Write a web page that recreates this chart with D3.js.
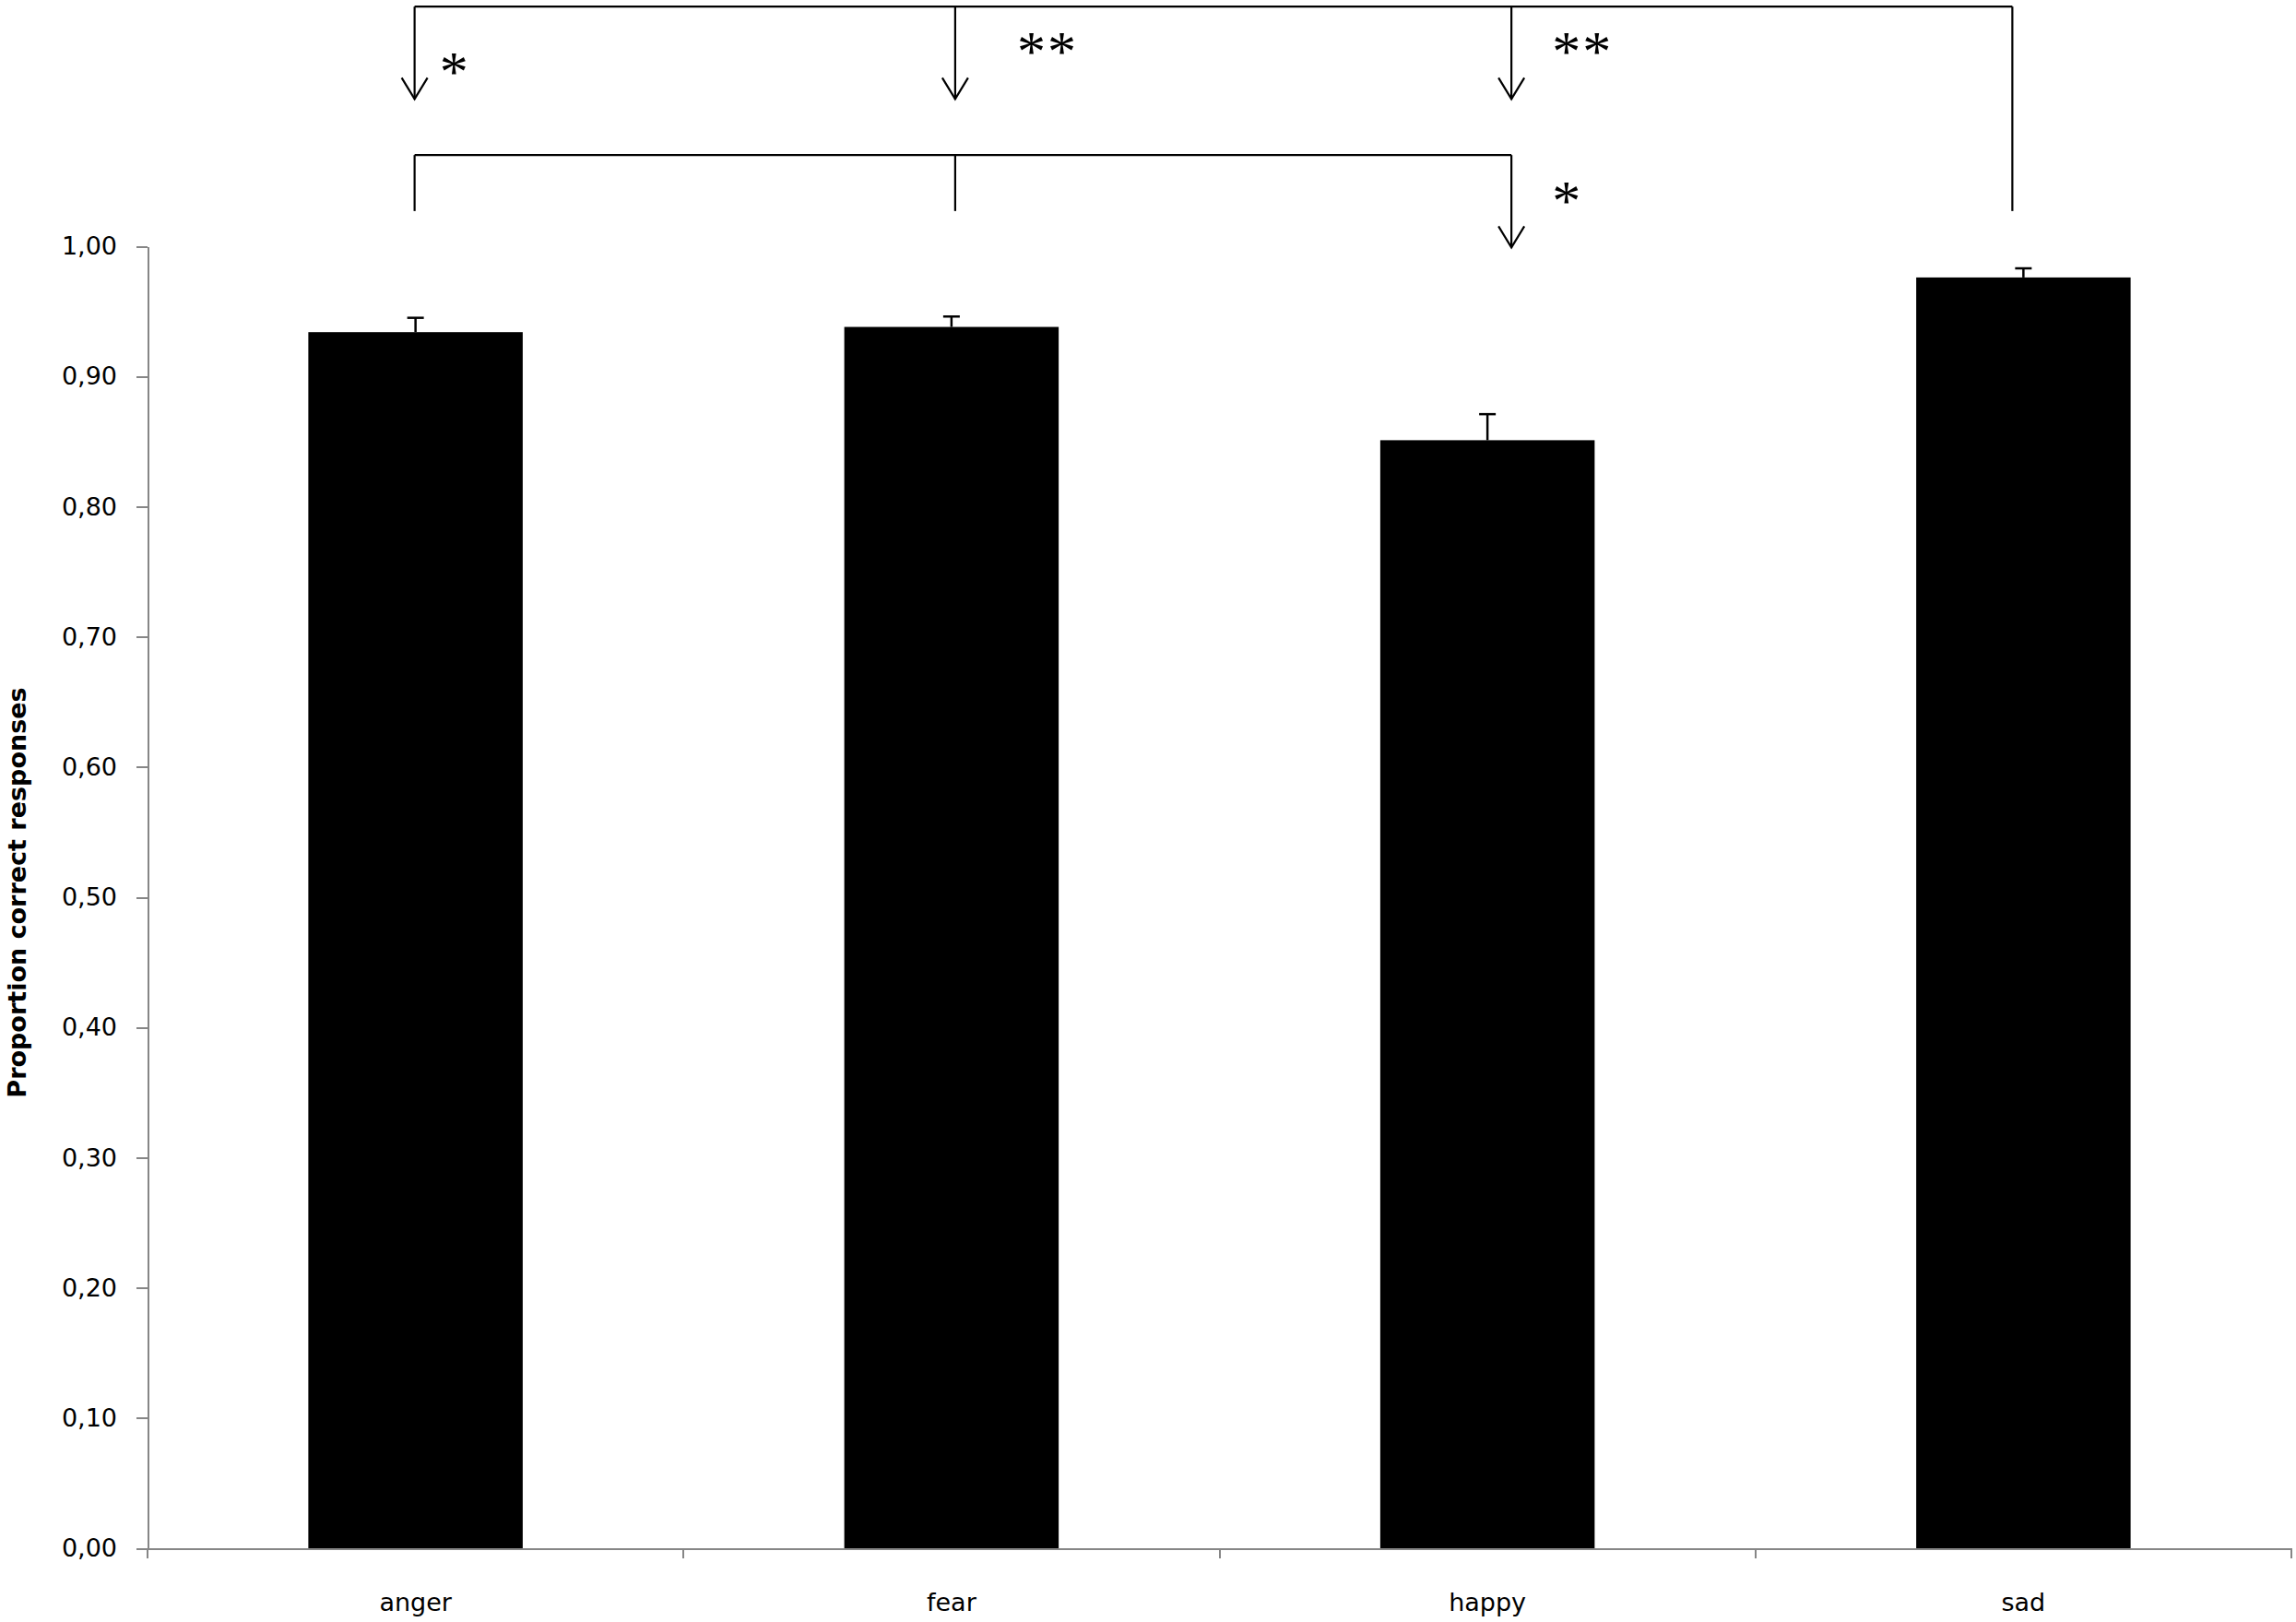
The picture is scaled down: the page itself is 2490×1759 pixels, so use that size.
<!DOCTYPE html>
<meta charset="utf-8">
<style>

body {
  margin: 0;
  background: #fff;
}

.axis path,
.axis line {
  fill: none;
  stroke: #868686;
  stroke-width: 2;
  shape-rendering: crispEdges;
}

.axis text {
  font: 27px "DejaVu Sans", sans-serif;
  fill: #000;
}

.bar {
  fill: #000;
}

.err {
  fill: none;
  stroke: #000;
  stroke-width: 2.5;
}

.bracket {
  fill: none;
  stroke: #000;
  stroke-width: 2.2;
}

.star {
  font: 62px "Liberation Serif", serif;
  fill: #000;
}

.title {
  font: bold 27px "DejaVu Sans", sans-serif;
  fill: #000;
}

</style>
<svg width="2490" height="1759"></svg>
<script src="https://d3js.org/d3.v7.min.js"></script>
<script>

var categories = ["anger", "fear", "happy", "sad"];
var means = [0.934, 0.938, 0.851, 0.976];
var errors = [0.011, 0.008, 0.020, 0.007];
var yTicks = [0, 0.1, 0.2, 0.3, 0.4, 0.5, 0.6, 0.7, 0.8, 0.9, 1.0];
var yTitle = "Proportion correct responses";

// significance brackets: sad > anger, fear, happy ; anger, fear > happy
var topSource = ["sad"],
    topTargets = ["anger", "fear", "happy"],
    topLabels = ["*", "**", "**"];
var lowSource = ["anger", "fear"],
    lowTargets = ["happy"],
    lowLabels = ["*"];
var bracketLevels = [1.184, 1.070];

var svg = d3.select("svg"),
    plotLeft = 160,
    plotRight = 2485,
    plotTop = 267,
    plotBottom = 1679;

var locale = d3.formatLocale({decimal: ",", thousands: ".", grouping: [3], currency: ["", ""]});
var formatTick = locale.format(".2f");

var x = d3.scaleBand()
    .domain(categories)
    .range([plotLeft, plotRight])
    .paddingInner(0.6)
    .paddingOuter(0.3);

var y = d3.scaleLinear()
    .domain([0, 1])
    .range([plotBottom, plotTop]);

var data = categories.map(function(c, i) {
  return {name: c, value: means[i], err: errors[i]};
});

// bars
svg.append("g").selectAll("rect")
  .data(data)
  .enter().append("rect")
    .attr("class", "bar")
    .attr("x", function(d) { return x(d.name); })
    .attr("y", function(d) { return y(d.value); })
    .attr("width", x.bandwidth())
    .attr("height", function(d) { return y(0) - y(d.value); });

// error bars (upper only)
var err = svg.append("g").selectAll("g")
  .data(data)
  .enter().append("g")
    .attr("class", "err");

err.append("line")
    .attr("x1", function(d) { return x(d.name) + x.bandwidth() / 2; })
    .attr("x2", function(d) { return x(d.name) + x.bandwidth() / 2; })
    .attr("y1", function(d) { return y(d.value); })
    .attr("y2", function(d) { return y(d.value + d.err); });

err.append("line")
    .attr("x1", function(d) { return x(d.name) + x.bandwidth() / 2 - 9; })
    .attr("x2", function(d) { return x(d.name) + x.bandwidth() / 2 + 9; })
    .attr("y1", function(d) { return y(d.value + d.err); })
    .attr("y2", function(d) { return y(d.value + d.err); });

// y axis
svg.append("g")
    .attr("class", "axis axis--y")
    .attr("transform", "translate(" + plotLeft + ",0)")
    .call(d3.axisLeft(y).tickValues(yTicks).tickFormat(formatTick).tickSize(12).tickPadding(21).tickSizeOuter(0));

// x axis: labels at centres, ticks at category boundaries
var xAxis = svg.append("g")
    .attr("class", "axis axis--x")
    .attr("transform", "translate(0," + plotBottom + ")")
    .call(d3.axisBottom(x).tickSize(0).tickPadding(0));

xAxis.selectAll(".tick text")
    .attr("dy", null)
    .attr("y", 68);

var bounds = categories.map(function(c) { return x(c) + x.bandwidth() / 2 - x.step() / 2; });
bounds.push(bounds[bounds.length - 1] + x.step());

xAxis.selectAll(".bound")
  .data(bounds)
  .enter().append("line")
    .attr("class", "bound")
    .attr("x1", function(d) { return d; })
    .attr("x2", function(d) { return d; })
    .attr("y1", 0)
    .attr("y2", 11);

// y title
svg.append("text")
    .attr("class", "title")
    .attr("text-anchor", "middle")
    .attr("transform", "translate(28,968) rotate(-90)")
    .text(yTitle);

// brackets
var nudge = {anger: -1, fear: 4, happy: 26, sad: -12},
    arrowDrop = 0.071,
    legEnd = 1.027;

function bx(c) { return x(c) + x.bandwidth() / 2 + nudge[c]; }

var brk = svg.append("g").attr("class", "bracket");

function drawBracket(sources, targets, level) {
  var all = sources.concat(targets),
      xs = all.map(bx),
      yl = y(level);
  brk.append("line")
      .attr("x1", d3.min(xs)).attr("x2", d3.max(xs))
      .attr("y1", yl).attr("y2", yl);
  sources.forEach(function(c) {
    brk.append("line")
        .attr("x1", bx(c)).attr("x2", bx(c))
        .attr("y1", yl).attr("y2", y(legEnd));
  });
  targets.forEach(function(c) {
    var tip = y(level - arrowDrop);
    brk.append("line")
        .attr("x1", bx(c)).attr("x2", bx(c))
        .attr("y1", yl).attr("y2", tip);
    brk.append("path")
        .attr("d", "M" + (bx(c) - 14) + "," + (tip - 23) + "L" + bx(c) + "," + tip + "L" + (bx(c) + 14) + "," + (tip - 23));
  });
}

drawBracket(topSource, topTargets, bracketLevels[0]);
drawBracket(lowSource, lowTargets, bracketLevels[1]);

// star labels: offset right of arrow, centre below bracket line
var starOffsets = [[31, 60], [71, 38], [48, 38]],
    lowStarOffsets = [[48, 39]];

function drawStars(targets, labels, level, offsets) {
  targets.forEach(function(c, i) {
    svg.append("text")
        .attr("class", "star")
        .attr("letter-spacing", 2)
        .attr("x", bx(c) + offsets[i][0] - 4)
        .attr("y", y(level) + offsets[i][1] + 31)
        .text(labels[i]);
  });
}

drawStars(topTargets, topLabels, bracketLevels[0], starOffsets);
drawStars(lowTargets, lowLabels, bracketLevels[1], lowStarOffsets);

</script>
